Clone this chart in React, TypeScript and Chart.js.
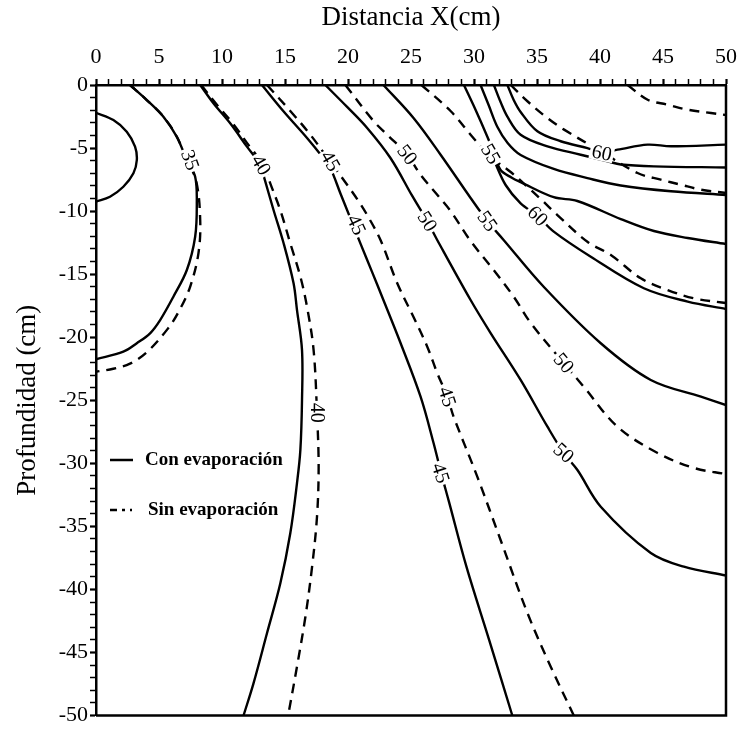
import React, { useEffect, useRef } from 'react';
import { Chart, registerables } from 'chart.js';

Chart.register(...registerables);

type Pt = [number, number];

// ---- axis ticks ----
const xMajorStep = 5;
const yMajorStep = 5;

// ---- contour lines (x = Distancia cm, y = Profundidad cm) ----
// solid = Con evaporación, dashed = Sin evaporación
const solid35Inner: Pt[] = [[0, -2.2], [1.38, -2.78], [2.44, -3.7], [3.1, -4.89], [3.24, -5.95], [2.97, -7.0], [2.17, -8.07], [1.11, -8.86], [0, -9.25]];
const solid35: Pt[] = [[2.7, 0], [4.03, -1.19], [5.35, -2.51], [6.41, -4.1], [7.21, -5.95], [7.87, -7.27], [8.0, -9.38], [7.87, -12.03], [7.21, -14.67], [6.14, -16.79], [5.09, -18.64], [4.29, -19.69], [3.24, -20.48], [2.17, -21.15], [0, -21.75]];
const dashed35: Pt[] = [[2.7, 0], [4.03, -1.19], [5.35, -2.51], [6.41, -4.1], [7.21, -5.95], [7.95, -7.6], [8.27, -10.7], [8.13, -13.35], [7.47, -16.0], [6.6, -17.9], [5.72, -19.3], [4.03, -21.2], [2.7, -22.1], [1.37, -22.5], [0, -22.74]];
const solid40: Pt[] = [[8.27, 0], [9.32, -1.45], [10.65, -3.04], [11.98, -4.89], [13.04, -6.34], [13.4, -7.53], [14.09, -9.91], [14.89, -12.55], [15.68, -15.73], [15.95, -17.84], [16.35, -21.02], [16.35, -24.98], [16.22, -28.94], [15.95, -31.59], [15.42, -35.55], [14.63, -39.52], [13.57, -43.48], [12.5, -47.45], [11.71, -50]];
const dashed40: Pt[] = [[8.35, 0], [9.5, -1.45], [10.85, -3.04], [12.2, -4.89], [13.3, -6.34], [13.83, -7.8], [14.62, -9.91], [15.42, -12.55], [16.22, -15.2], [16.75, -17.6], [17.27, -21.02], [17.54, -26.0], [17.67, -30.27], [17.54, -34.23], [17.15, -38.2], [16.62, -42.17], [15.95, -46.13], [15.25, -50]];
const solid45: Pt[] = [[13.17, 0], [14.86, -2.06], [16.75, -4.2], [18.04, -5.79], [18.6, -6.58], [19.4, -8.6], [20.2, -10.6], [21.0, -12.6], [21.9, -14.8], [22.81, -17.05], [24.17, -20.46], [25.76, -24.72], [26.79, -28.39], [27.4, -30.8], [28.0, -33.0], [29.4, -38.2], [31.2, -44.0], [33.04, -50]];
const dashed45: Pt[] = [[13.57, 0], [15.42, -2.06], [17.01, -3.94], [18.6, -6.1], [19.93, -7.91], [20.83, -9.2], [21.52, -10.31], [22.58, -12.29], [23.9, -15.7], [25.2, -18.4], [26.29, -20.75], [27.08, -22.84], [27.88, -24.72], [28.38, -26.3], [30.26, -31.06], [32.11, -36.08], [34.24, -41.87], [36.09, -46.13], [37.92, -50]];
const solid50: Pt[] = [[18.2, 0], [19.93, -1.74], [21.52, -3.41], [23.37, -5.79], [25.1, -8.8], [26.29, -10.81], [27.08, -12.29], [29.73, -17.05], [31.32, -19.67], [33.7, -23.39], [35.83, -27.1], [37.12, -29.18], [38.21, -30.53], [40.06, -33.44], [44.03, -37.11], [46.66, -38.2], [50, -38.9]];
const dashed50: Pt[] = [[19.79, 0], [22.02, -2.85], [23.11, -3.94], [24.7, -5.53], [25.75, -7.11], [27.08, -8.7], [28.14, -9.99], [29.73, -12.37], [31.5, -14.6], [33.15, -16.79], [34.5, -18.87], [37.12, -22.05], [38.71, -23.93], [41.39, -27.1], [44.57, -29.18], [47.46, -30.37], [50, -30.85]];
const solid55: Pt[] = [[22.81, 0], [25.2, -2.62], [27.35, -5.53], [29.73, -8.96], [31.06, -10.79], [32.35, -12.29], [35.53, -16.0], [40.06, -20.48], [44.03, -23.39], [48.01, -24.72], [50, -25.38]];
const dashed55: Pt[] = [[25.83, 0], [28.14, -2.06], [29.73, -3.94], [31.16, -5.55], [32.91, -6.9], [34.24, -8.07], [35.29, -9.04], [36.62, -10.31], [39.0, -12.43], [40.86, -13.48], [43.24, -15.33], [45.37, -16.26], [47.46, -16.92], [50, -17.29]];
const solidE: Pt[] = [[29.2, 0], [30.13, -1.98], [31.06, -4.1], [31.58, -5.39], [32.11, -6.74], [33.0, -7.35], [33.7, -7.7], [36.33, -8.9], [38.2, -9.2], [41.65, -10.63], [44.28, -11.58], [46.96, -12.13], [50, -12.61]];
const solidF: Pt[] = [[31.58, -5.95], [32.51, -7.93], [33.7, -9.38], [35.06, -10.39], [36.33, -11.63], [39.27, -13.62], [43.48, -16.12], [46.96, -17.18], [50, -17.76]];
const solidD: Pt[] = [[30.52, 0], [31.16, -1.59], [31.85, -3.31], [32.67, -4.6], [33.7, -5.55], [36.33, -6.66], [39.0, -7.38], [41.65, -7.97], [45.63, -8.43], [50, -8.72]];
const solidB: Pt[] = [[31.58, 0], [32.11, -1.35], [32.65, -2.51], [33.7, -3.94], [35.83, -4.86], [38.47, -5.53], [40.6, -6.05], [41.65, -6.3], [44.28, -6.45], [50, -6.54]];
const solidA: Pt[] = [[32.65, 0], [33.15, -1.19], [33.7, -2.14], [35.03, -3.67], [36.88, -4.46], [39.0, -5.0], [40.14, -5.31], [41.39, -5.13], [43.78, -4.73], [45.63, -4.86], [50, -4.73]];
const dashedC: Pt[] = [[32.91, 0], [34.24, -1.29], [35.83, -2.62], [37.15, -3.54], [40.14, -5.31], [42.98, -6.98], [44.83, -7.51], [46.42, -7.91], [48.01, -8.3], [50, -8.56]];
const dashedTop: Pt[] = [[42.19, 0], [43.78, -1.17], [45.37, -1.56], [46.96, -1.96], [48.81, -2.22], [50, -2.38]];

const solidLines: Pt[][] = [solid35Inner, solid35, solid40, solid45, solid50, solid55, solidE, solidF, solidD, solidB, solidA];
const dashedLines: Pt[][] = [dashed35, dashed40, dashed45, dashed50, dashed55, dashedC, dashedTop];

// ---- contour labels ----
const labelTexts = ['35', '40', '40', '45', '45', '45', '45', '50', '50', '55', '55', '60', '60', '50', '50'];
const labelX = [7.47, 13.11, 17.57, 18.6, 20.67, 27.88, 27.35, 24.7, 26.29, 31.32, 31.06, 35.06, 40.14, 37.12, 37.12];
const labelY = [-5.95, -6.34, -26.0, -6.03, -11.1, -24.72, -30.77, -5.53, -10.81, -5.47, -10.79, -10.39, -5.39, -22.05, -29.18];

const legendLabels = ['Con evaporación', 'Sin evaporación'];

// label orientation (style)
const labelAngles = [70, 60, 90, 60, 65, 72, 72, 52, 58, 60, 55, 45, 12, 50, 42];

const SERIF = "'Liberation Serif', 'Times New Roman', serif";

const contourLabelPlugin = {
  id: 'contourLabels',
  afterDatasetsDraw(chart: any) {
    const { ctx, scales } = chart;
    const xs = scales.x;
    const ys = scales.y;
    ctx.save();
    ctx.font = `20px ${SERIF}`;
    ctx.textAlign = 'center';
    ctx.textBaseline = 'middle';
    labelTexts.forEach((t, i) => {
      const px = xs.getPixelForValue(labelX[i]);
      const py = ys.getPixelForValue(labelY[i]);
      const w = ctx.measureText(t).width;
      ctx.save();
      ctx.translate(px, py);
      ctx.rotate((labelAngles[i] * Math.PI) / 180);
      ctx.fillStyle = '#fff';
      ctx.fillRect(-w / 2 - 2, -8, w + 4, 16);
      ctx.fillStyle = '#000';
      ctx.fillText(t, 0, 1);
      ctx.restore();
    });
    ctx.restore();
  },
};

const framePlugin = {
  id: 'frame',
  afterDatasetsDraw(chart: any) {
    const { ctx, chartArea } = chart;
    ctx.save();
    ctx.strokeStyle = '#000';
    ctx.lineWidth = 2.5;
    ctx.beginPath();
    ctx.moveTo(chartArea.left, chartArea.bottom);
    ctx.lineTo(chartArea.right, chartArea.bottom);
    ctx.lineTo(chartArea.right, chartArea.top);
    ctx.stroke();
    ctx.restore();
  },
};

const legendPlugin = {
  id: 'innerLegend',
  afterDatasetsDraw(chart: any) {
    const { ctx, chartArea } = chart;
    const x0 = chartArea.left + 14;
    const rows = [chartArea.top + 375, chartArea.top + 425];
    ctx.save();
    ctx.strokeStyle = '#000';
    ctx.lineWidth = 2.5;
    ctx.font = `bold 19px ${SERIF}`;
    ctx.fillStyle = '#000';
    ctx.textBaseline = 'middle';
    ctx.beginPath();
    ctx.setLineDash([]);
    ctx.moveTo(x0, rows[0]);
    ctx.lineTo(x0 + 23, rows[0]);
    ctx.stroke();
    ctx.fillText(legendLabels[0], x0 + 35, rows[0]);
    ctx.beginPath();
    ctx.setLineDash([7, 5, 3, 5, 2, 100]);
    ctx.moveTo(x0, rows[1]);
    ctx.lineTo(x0 + 23, rows[1]);
    ctx.stroke();
    ctx.setLineDash([]);
    ctx.fillText(legendLabels[1], x0 + 38, rows[1]);
    ctx.restore();
  },
};

export default function App() {
  const canvasRef = useRef<HTMLCanvasElement | null>(null);

  useEffect(() => {
    if (!canvasRef.current) return;
    const toData = (pts: Pt[]) => pts.map(([x, y]) => ({ x, y }));
    const datasets: any[] = [];
    solidLines.forEach((pts, i) => {
      datasets.push({
        label: i === 0 ? legendLabels[0] : '',
        data: toData(pts),
        showLine: true,
        borderColor: '#000',
        borderWidth: 2.4,
        pointRadius: 0,
        tension: 0.35,
        fill: false,
      });
    });
    dashedLines.forEach((pts, i) => {
      datasets.push({
        label: i === 0 ? legendLabels[1] : '',
        data: toData(pts),
        showLine: true,
        borderColor: '#000',
        borderWidth: 2.4,
        borderDash: [10, 7],
        pointRadius: 0,
        tension: 0.35,
        fill: false,
      });
    });

    const tickW = (c: any) => (c.tick && c.tick.value % 5 === 0 ? 2.2 : 1.5);

    const chart = new Chart(canvasRef.current, {
      type: 'scatter',
      data: { datasets },
      options: {
        animation: false,
        responsive: false,
        devicePixelRatio: 1,
        events: [],
        layout: { padding: { left: 0, top: 0, right: 17, bottom: 13.5 } },
        plugins: { legend: { display: false }, tooltip: { enabled: false } },
        scales: {
          x: {
            type: 'linear',
            position: 'top',
            min: 0,
            max: 50,
            ticks: {
              stepSize: 1,
              autoSkip: false,
              maxRotation: 0,
              padding: 9,
              color: '#000',
              font: { family: SERIF, size: 22 },
              callback: (v: any) => (Number(v) % xMajorStep === 0 ? String(v) : ''),
            },
            grid: { display: true, drawOnChartArea: false, drawTicks: true, tickLength: 6, tickColor: '#000', tickWidth: tickW },
            border: { display: true, color: '#000', width: 2.5 },
            title: { display: true, text: 'Distancia X(cm)', color: '#000', font: { family: SERIF, size: 27 }, padding: { top: 2, bottom: 0 } },
            afterFit: (s: any) => { s.height = 85; s.paddingLeft = 0; s.paddingRight = 0; },
          },
          y: {
            type: 'linear',
            position: 'left',
            min: -50,
            max: 0,
            ticks: {
              stepSize: 1,
              autoSkip: false,
              padding: 2,
              color: '#000',
              font: { family: SERIF, size: 22 },
              callback: (v: any) => (Number(v) % yMajorStep === 0 ? String(v) : ''),
            },
            grid: { display: true, drawOnChartArea: false, drawTicks: true, tickLength: 6, tickColor: '#000', tickWidth: tickW },
            border: { display: true, color: '#000', width: 2.5 },
            title: { display: true, text: 'Profundidad (cm)', color: '#000', font: { family: SERIF, size: 27 }, padding: { top: 12, bottom: 0 } },
            afterFit: (s: any) => { s.width = 96; s.paddingTop = 0; s.paddingBottom = 0; },
          },
        },
      } as any,
      plugins: [contourLabelPlugin, framePlugin, legendPlugin],
    });
    return () => chart.destroy();
  }, []);

  return (
    <div style={{ position: 'fixed', left: 0, top: 0, width: 743, height: 729, background: '#fff' }}>
      <canvas ref={canvasRef} width={743} height={729} style={{ width: 743, height: 729, display: 'block' }} />
    </div>
  );
}
